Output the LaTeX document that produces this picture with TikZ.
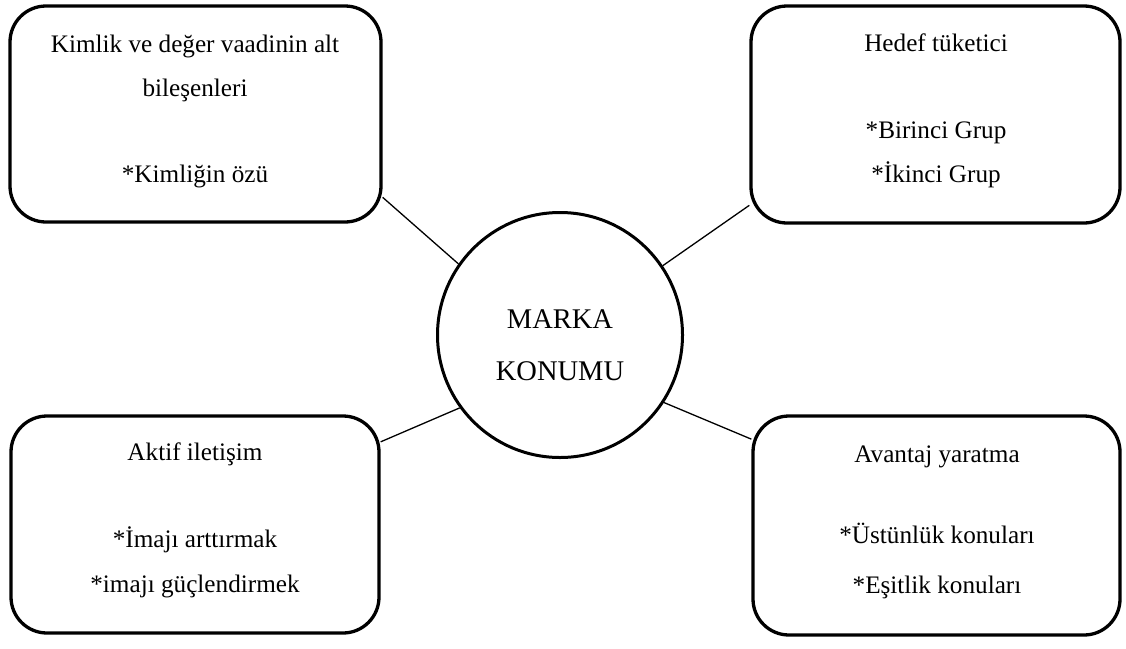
\documentclass[tikz,border=0pt]{standalone}
\usepackage{fontspec}
\setmainfont{Liberation Serif}
\begin{document}
\begin{tikzpicture}[x=1pt,y=-1pt,
  box/.style={draw, line width=3.3pt, rounded corners=36pt, inner sep=0pt},
  hub/.style={draw, circle, line width=3pt, inner sep=0pt, minimum size=245pt},
  txt/.style={anchor=base, inner sep=0pt, font=\fontsize{25.2}{30}\selectfont},
  hubtxt/.style={anchor=base, inner sep=0pt, font=\fontsize{28.5}{34}\selectfont},
  link/.style={line width=1.3pt}]
\useasboundingbox (0,0) rectangle (1126,648);

% four corner boxes
\node[box, minimum width=371pt, minimum height=216pt] (tl) at (195.5,114) {};
\node[box, minimum width=369pt, minimum height=217pt] (tr) at (935.5,114.5) {};
\node[box, minimum width=368pt, minimum height=217pt] (bl) at (195,524.5) {};
\node[box, minimum width=367pt, minimum height=219pt] (br) at (936.5,525.5) {};

% central circle
\node[hub] (hub) at (560,335) {};

% texts
\node[txt] (tl1) at (195,52) {Kimlik ve değer vaadinin alt};
\node[txt] (tl2) at (195,96) {bileşenleri};
\node[txt] (tl3) at (195,182) {*Kimliğin özü};

\node[txt] (tr1) at (936,51) {Hedef tüketici};
\node[txt] (tr2) at (936,138) {*Birinci Grup};
\node[txt] (tr3) at (936,182) {*İkinci Grup};

\node[txt] (bl1) at (195,460) {Aktif iletişim};
\node[txt] (bl2) at (195,547) {*İmajı arttırmak};
\node[txt] (bl3) at (195,592) {*imajı güçlendirmek};

\node[txt] (br1) at (937,462) {Avantaj yaratma};
\node[txt] (br2) at (937,543) {*Üstünlük konuları};
\node[txt] (br3) at (937,593) {*Eşitlik konuları};

\node[hubtxt] (h1) at (560,328) {MARKA};
\node[hubtxt] (h2) at (560,380) {KONUMU};

% connectors
\draw[link] (tl.-24) -- (hub.145.8);
\draw[link] (tr.206.6) -- (hub.34.1);
\draw[link] (bl.24.5) -- (hub.216.7);
\draw[link] (br.155.6) -- (hub.-33);
\end{tikzpicture}
\end{document}
